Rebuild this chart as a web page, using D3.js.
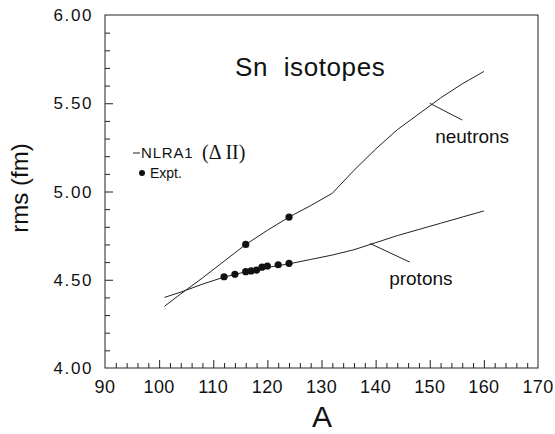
<!DOCTYPE html>
<html>
<head>
<meta charset="utf-8">
<script src="https://cdn.jsdelivr.net/npm/d3@7"></script>
<style>
  body { margin: 0; background: #fff; }
  svg { display: block; }
  text { fill: #111; }
</style>
</head>
<body>
<div id="chart"></div>
<script>
// calculated rms radii (NLRA1, Delta II)
const calcA = [101, 104, 108, 112, 116, 120, 124, 128, 132, 136, 140, 144, 148, 152, 156, 160];
const neutronRms = [4.35, 4.42, 4.51, 4.605, 4.70, 4.78, 4.855, 4.92, 4.99, 5.12, 5.24, 5.35, 5.44, 5.53, 5.61, 5.68];
const protonRms = [4.40, 4.43, 4.475, 4.515, 4.545, 4.57, 4.59, 4.615, 4.64, 4.67, 4.71, 4.75, 4.785, 4.82, 4.855, 4.89];

// experimental points
const exptNeutronA = [116, 124];
const exptNeutronRms = [4.70, 4.855];
const exptProtonA = [112, 114, 116, 117, 118, 119, 120, 122, 124];
const exptProtonRms = [4.517, 4.531, 4.546, 4.55, 4.555, 4.571, 4.578, 4.585, 4.593];

const xTicks = [90, 100, 110, 120, 130, 140, 150, 160, 170];
const yTicks = [4.0, 4.5, 5.0, 5.5, 6.0];

const width = 555, height = 434;
const sans = "'Liberation Sans', Arial, sans-serif";
const serif = "'Liberation Serif', 'Times New Roman', serif";
const x = d3.scaleLinear().domain([90, 170]).range([105, 538]);
const y = d3.scaleLinear().domain([4.0, 6.0]).range([368, 15]);

const svg = d3.select("#chart").append("svg")
  .attr("width", width).attr("height", height)
  .style("font-family", sans);

// frame
svg.append("rect")
  .attr("x", x(90)).attr("y", y(6))
  .attr("width", x(170) - x(90)).attr("height", y(4) - y(6))
  .attr("fill", "none").attr("stroke", "#222").attr("stroke-width", 1);

// ticks (inward), majors every 10 / 0.5, minors every 2 / 0.1
const ax = svg.append("g");
d3.range(92, 170, 2).forEach(a => {
  const major = a % 10 === 0;
  ax.append("line")
    .attr("x1", x(a) + 0.5).attr("x2", x(a) + 0.5)
    .attr("y1", y(4)).attr("y2", y(4) - (major ? 8 : 5))
    .attr("stroke", "#222").attr("stroke-width", 1);
});
d3.range(41, 60, 1).forEach(v => {
  const r = v / 10;
  const major = v % 5 === 0;
  ax.append("line")
    .attr("x1", x(90)).attr("x2", x(90) + (major ? 8 : 5))
    .attr("y1", y(r) + 0.5).attr("y2", y(r) + 0.5)
    .attr("stroke", "#222").attr("stroke-width", 1);
});

svg.selectAll(".xt").data(xTicks).enter().append("text")
  .attr("x", d => x(d)).attr("y", 393)
  .attr("text-anchor", "middle").attr("font-size", 18)
  .attr("letter-spacing", 0.4)
  .text(d => d);

svg.selectAll(".yt").data(yTicks).enter().append("text")
  .attr("x", 93).attr("y", d => y(d) + 6)
  .attr("text-anchor", "end").attr("font-size", 17)
  .attr("letter-spacing", 1.6)
  .text(d => d.toFixed(2));

// axis titles
svg.append("text")
  .attr("x", 322).attr("y", 427)
  .attr("text-anchor", "middle").attr("font-size", 30)
  .text("A");
svg.append("text")
  .attr("transform", "translate(28,188) rotate(-90)")
  .attr("text-anchor", "middle").attr("font-size", 24)
  .text("rms (fm)");

// title
svg.append("text")
  .attr("x", 235).attr("y", 76)
  .attr("font-size", 26).attr("letter-spacing", 0.6)
  .attr("xml:space", "preserve")
  .text("Sn  isotopes");

// curves
const line = d3.line().x(d => x(d[0])).y(d => y(d[1]));
[neutronRms, protonRms].forEach(series => {
  svg.append("path")
    .attr("d", line(calcA.map((a, i) => [a, series[i]])))
    .attr("fill", "none").attr("stroke", "#222").attr("stroke-width", 1);
});

// experimental dots
const dots = exptNeutronA.map((a, i) => [a, exptNeutronRms[i]])
  .concat(exptProtonA.map((a, i) => [a, exptProtonRms[i]]));
svg.selectAll(".dot").data(dots).enter().append("circle")
  .attr("cx", d => x(d[0])).attr("cy", d => y(d[1]))
  .attr("r", 3.6).attr("fill", "#111");

// curve labels with leaders
svg.append("line")
  .attr("x1", x(150)).attr("y1", y(5.50))
  .attr("x2", x(156)).attr("y2", y(5.405))
  .attr("stroke", "#222");
svg.append("text")
  .attr("x", x(151)).attr("y", y(5.275))
  .attr("font-size", 19).text("neutrons");

svg.append("line")
  .attr("x1", x(139)).attr("y1", y(4.705))
  .attr("x2", x(146.3)).attr("y2", y(4.60))
  .attr("stroke", "#222");
svg.append("text")
  .attr("x", x(142.5)).attr("y", y(4.47))
  .attr("font-size", 19).text("protons");

// legend
svg.append("line")
  .attr("x1", 133).attr("x2", 140).attr("y1", 153).attr("y2", 153)
  .attr("stroke", "#222");
svg.append("text")
  .attr("x", 141).attr("y", 158)
  .attr("font-size", 15).attr("letter-spacing", 0.8)
  .text("NLRA1");
svg.append("text")
  .attr("x", 202).attr("y", 159)
  .style("font-family", serif)
  .attr("font-size", 20)
  .attr("xml:space", "preserve")
  .text("(Δ II)");
svg.append("circle")
  .attr("cx", 142).attr("cy", 173).attr("r", 3).attr("fill", "#111");
svg.append("text")
  .attr("x", 150).attr("y", 178)
  .attr("font-size", 14).text("Expt.");
</script>
</body>
</html>
